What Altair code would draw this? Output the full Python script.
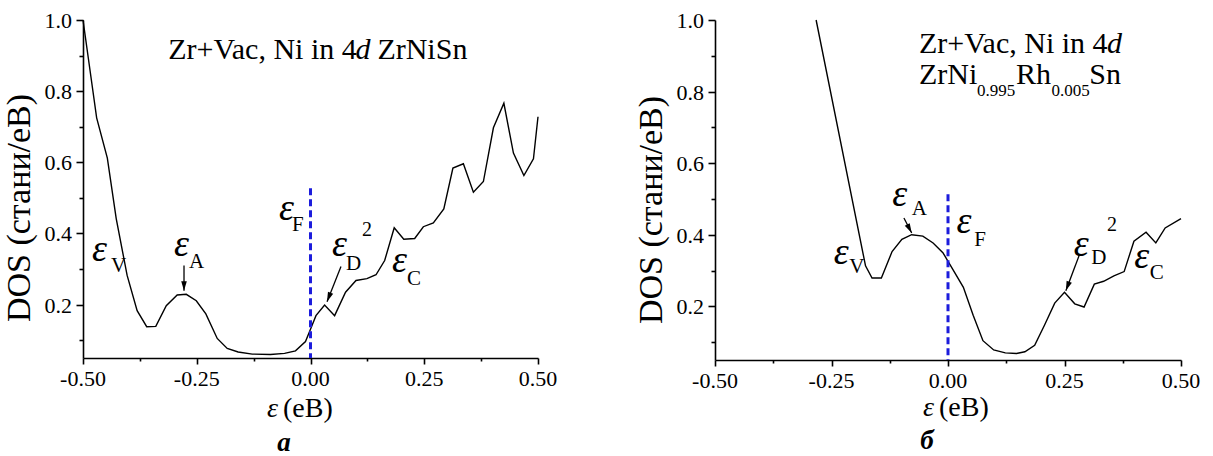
import math
import altair as alt
import pandas as pd

# ---- DOS curves (energy in eV, DOS in states/eV) ----
left_e = [-0.500, -0.470, -0.4465, -0.427, -0.403, -0.381, -0.360, -0.340, -0.317, -0.293,
          -0.273, -0.251, -0.230, -0.205, -0.183, -0.159, -0.128, -0.088, -0.057, -0.033,
          -0.011, 0.000, 0.012, 0.031, 0.053, 0.077, 0.100, 0.124, 0.144, 0.163,
          0.184, 0.205, 0.229, 0.248, 0.270, 0.293, 0.313, 0.336, 0.358, 0.380,
          0.402, 0.425, 0.446, 0.469, 0.490, 0.500]
left_dos = [1.000, 0.725, 0.612, 0.442, 0.282, 0.183, 0.138, 0.139, 0.197, 0.227,
            0.229, 0.211, 0.174, 0.105, 0.077, 0.067, 0.061, 0.060, 0.063, 0.070,
            0.096, 0.131, 0.169, 0.199, 0.169, 0.235, 0.268, 0.273, 0.284, 0.324,
            0.416, 0.384, 0.386, 0.419, 0.430, 0.469, 0.584, 0.596, 0.516, 0.546,
            0.697, 0.766, 0.626, 0.563, 0.610, 0.728]

right_e = [-0.283, -0.177, -0.163, -0.143, -0.120, -0.099, -0.078, -0.054, -0.032, -0.011,
           0.010, 0.033, 0.054, 0.075, 0.098, 0.123, 0.147, 0.165, 0.186, 0.207,
           0.229, 0.250, 0.272, 0.292, 0.314, 0.334, 0.356, 0.378, 0.399, 0.425,
           0.446, 0.466, 0.500]
right_dos = [1.000, 0.313, 0.279, 0.279, 0.353, 0.387, 0.400, 0.396, 0.377, 0.350,
             0.304, 0.253, 0.175, 0.104, 0.078, 0.070, 0.068, 0.073, 0.091, 0.147,
             0.209, 0.239, 0.207, 0.198, 0.262, 0.270, 0.285, 0.297, 0.382, 0.407,
             0.377, 0.419, 0.445]

# Fermi level marker: x = 0, from this DOS value down to the axis
left_fermi_top = 0.527
right_fermi_top = 0.513

# ---- axis ticks and their labels ----
x_ticks = [-0.5, -0.375, -0.25, -0.125, 0.0, 0.125, 0.25, 0.375, 0.5]
y_ticks = [0.1, 0.2, 0.3, 0.4, 0.5, 0.6, 0.7, 0.8, 0.9, 1.0]
x_label_values = [-0.5, -0.25, 0.0, 0.25, 0.5]
x_label_text = ["-0.50", "-0.25", "0.00", "0.25", "0.50"]
y_label_values = [0.2, 0.4, 0.6, 0.8, 1.0]
y_label_text = ["0.2", "0.4", "0.6", "0.8", "1.0"]
Y_TITLE = "DOS (стани/еВ)"
X_DOMAIN = [-0.5, 0.5]
Y_DOMAIN = [0.05, 1.0]

# ---- annotations: (x, y, text) ----
left_eps = [(-0.480, 0.324), (-0.300, 0.336), (-0.069, 0.437), (0.047, 0.338), (0.179, 0.293)]
left_subs = [(-0.4385, 0.293, "V"), (-0.267, 0.302, "A"), (-0.0407, 0.406, "F"),
             (0.078, 0.296, "D"), (0.212, 0.254, "C")]
left_two = [(0.113, 0.392, "2")]
left_arrows = [(-0.278, 0.310, -0.278, 0.239), (0.067, 0.307, 0.0363, 0.2084)]
left_title = [(-0.3127, 0.890, "Zr+Vac, Ni in 4"), (0.147, 0.890, "ZrNiSn")]
left_title_it = [(0.099, 0.890, "d")]
left_title_sub = []

right_eps = [(-0.2454, 0.3175), (-0.1198, 0.479), (0.0184, 0.405), (0.2697, 0.3405), (0.3995, 0.308)]
right_subs = [(-0.2119, 0.294, "V"), (-0.0779, 0.456, "A"), (0.0561, 0.368, "F"),
              (0.3074, 0.3175, "D"), (0.433, 0.276, "C")]
right_two = [(0.341, 0.4097, "2")]
right_arrows = [(-0.0946, 0.4466, -0.0779, 0.405), (0.2822, 0.345, 0.2529, 0.2437)]
right_title = [(-0.0622, 0.908, "Zr+Vac, Ni in 4"), (-0.0622, 0.822, "ZrNi"),
               (0.146, 0.822, "Rh"), (0.303, 0.822, "Sn")]
right_title_it = [(0.341, 0.908, "d")]
right_title_sub = [(0.062, 0.789, "0.995"), (0.222, 0.789, "0.005")]

FONT = "Liberation Serif, Times New Roman, serif"
BLUE = "#1c1cdc"
ARROW_HEAD = "M0,0L-0.7,2.4L0.7,2.4Z"

X_MAJOR = "abs(datum.value*4 - round(datum.value*4)) > 0.01"
Y_MAJOR = "abs(datum.value*5 - round(datum.value*5)) > 0.01"

AXIS_STYLE = dict(
    labels=False, domainColor="black", domainWidth=1.6, tickColor="black",
    tickWidth=1.6, grid=False,
)

# one shared axis definition for every layer, so the layered axes merge cleanly;
# tick labels and titles are drawn as serif text layers below
X_AXIS = alt.Axis(
    values=x_ticks,
    tickSize={"condition": {"test": X_MAJOR, "value": 3}, "value": 6},
    **AXIS_STYLE,
)
Y_AXIS = alt.Axis(
    values=y_ticks,
    tickSize={"condition": {"test": Y_MAJOR, "value": 4}, "value": 7},
    **AXIS_STYLE,
)


def X(field):
    return alt.X(field, scale=alt.Scale(domain=X_DOMAIN, nice=False, zero=False),
                 axis=X_AXIS, title=None)


def Y(field):
    return alt.Y(field, scale=alt.Scale(domain=Y_DOMAIN, nice=False, zero=False),
                 axis=Y_AXIS, title=None)


def text_layer(rows, size, style="normal", weight="normal"):
    df = pd.DataFrame(rows, columns=["x", "y", "t"])
    return alt.Chart(df).mark_text(
        font=FONT, fontSize=size, fontStyle=style, fontWeight=weight,
        align="left", baseline="alphabetic", color="black"
    ).encode(x=X("x:Q"), y=Y("y:Q"), text="t:N")


def fixed_text(px, py, txt, size, style="normal", weight="normal", align="left", angle=0):
    df = pd.DataFrame({"t": [txt]})
    return alt.Chart(df).mark_text(
        font=FONT, fontSize=size, fontStyle=style, fontWeight=weight,
        align=align, baseline="alphabetic", color="black", angle=angle
    ).encode(x=alt.value(px), y=alt.value(py), text="t:N")


def tick_labels(h):
    xdf = pd.DataFrame({"x": x_label_values, "t": x_label_text})
    ydf = pd.DataFrame({"y": y_label_values, "t": y_label_text})
    xl = alt.Chart(xdf).mark_text(
        font=FONT, fontSize=22, align="center", baseline="alphabetic", color="black"
    ).encode(x=X("x:Q"), y=alt.value(h + 28), text="t:N")
    yl = alt.Chart(ydf).mark_text(
        font=FONT, fontSize=22, align="right", baseline="middle", color="black", dy=1
    ).encode(x=alt.value(-11), y=Y("y:Q"), text="t:N")
    return [xl, yl]


def panel(e, dos, w, h, fermi_top, eps, subs, two, arrows, title, title_it,
          title_sub, xt_eps_x, xt_x, xt_y, letter, letter_x, letter_y, ytitle_y):
    curve = pd.DataFrame({"e": e, "dos": dos})
    line = alt.Chart(curve).mark_line(color="black", strokeWidth=1.4).encode(
        x=X("e:Q"), y=Y("dos:Q"), order="e:Q",
    )

    fermi = alt.Chart(pd.DataFrame({"x": [0.0], "y": [fermi_top], "y2": [Y_DOMAIN[0]]})).mark_rule(
        color=BLUE, strokeWidth=3, strokeDash=[7, 4]
    ).encode(x=X("x:Q"), y=Y("y:Q"), y2="y2:Q")

    arr_rows = []
    for x0, y0, x1, y1 in arrows:
        dx = (x1 - x0) * w / (X_DOMAIN[1] - X_DOMAIN[0])
        dy = -(y1 - y0) * h / (Y_DOMAIN[1] - Y_DOMAIN[0])
        ang = math.degrees(math.atan2(dx, -dy)) % 360
        arr_rows.append({"x0": x0, "y0": y0, "x1": x1, "y1": y1, "ang": ang})
    arr_df = pd.DataFrame(arr_rows)
    shafts = alt.Chart(arr_df).mark_rule(color="black", strokeWidth=1.3).encode(
        x=X("x0:Q"), y=Y("y0:Q"), x2="x1:Q", y2="y1:Q",
    )
    heads = alt.Chart(arr_df).mark_point(
        shape=ARROW_HEAD, filled=True, color="black", opacity=1, size=64
    ).encode(x=X("x1:Q"), y=Y("y1:Q"), angle=alt.Angle("ang:Q", scale=None))

    layers = [line, fermi, shafts, heads,
              text_layer([(x, y, "ε") for x, y in eps], 38, style="italic"),
              text_layer(subs, 21),
              text_layer(two, 20),
              text_layer(title, 30),
              text_layer(title_it, 30, style="italic")]
    if title_sub:
        layers.append(text_layer(title_sub, 17))
    layers += tick_labels(h)
    layers += [fixed_text(-53, ytitle_y, Y_TITLE, 34, align="center", angle=270),
               fixed_text(xt_eps_x, xt_y, "ε", 28, style="italic"),
               fixed_text(xt_x, xt_y, "(еВ)", 28),
               fixed_text(letter_x, letter_y, letter, 27, style="italic", weight="bold",
                          align="center")]
    return alt.layer(*layers).properties(width=w, height=h)


left = panel(left_e, left_dos, 455, 338, left_fermi_top, left_eps, left_subs, left_two,
             left_arrows, left_title, left_title_it, left_title_sub,
             184, 200, 397, "a", 201, 431, 188)
right = panel(right_e, right_dos, 466, 340, right_fermi_top, right_eps, right_subs, right_two,
              right_arrows, right_title, right_title_it, right_title_sub,
              208, 224, 396, "б", 212, 429, 190)

chart = alt.hconcat(left, right, spacing=177, bounds="flush").properties(
    padding={"left": 3, "top": 10, "right": 5, "bottom": 0}
).configure(font=FONT).configure_view(stroke=None)

chart.save("out.html", embed_options={"renderer": "svg", "actions": False})
